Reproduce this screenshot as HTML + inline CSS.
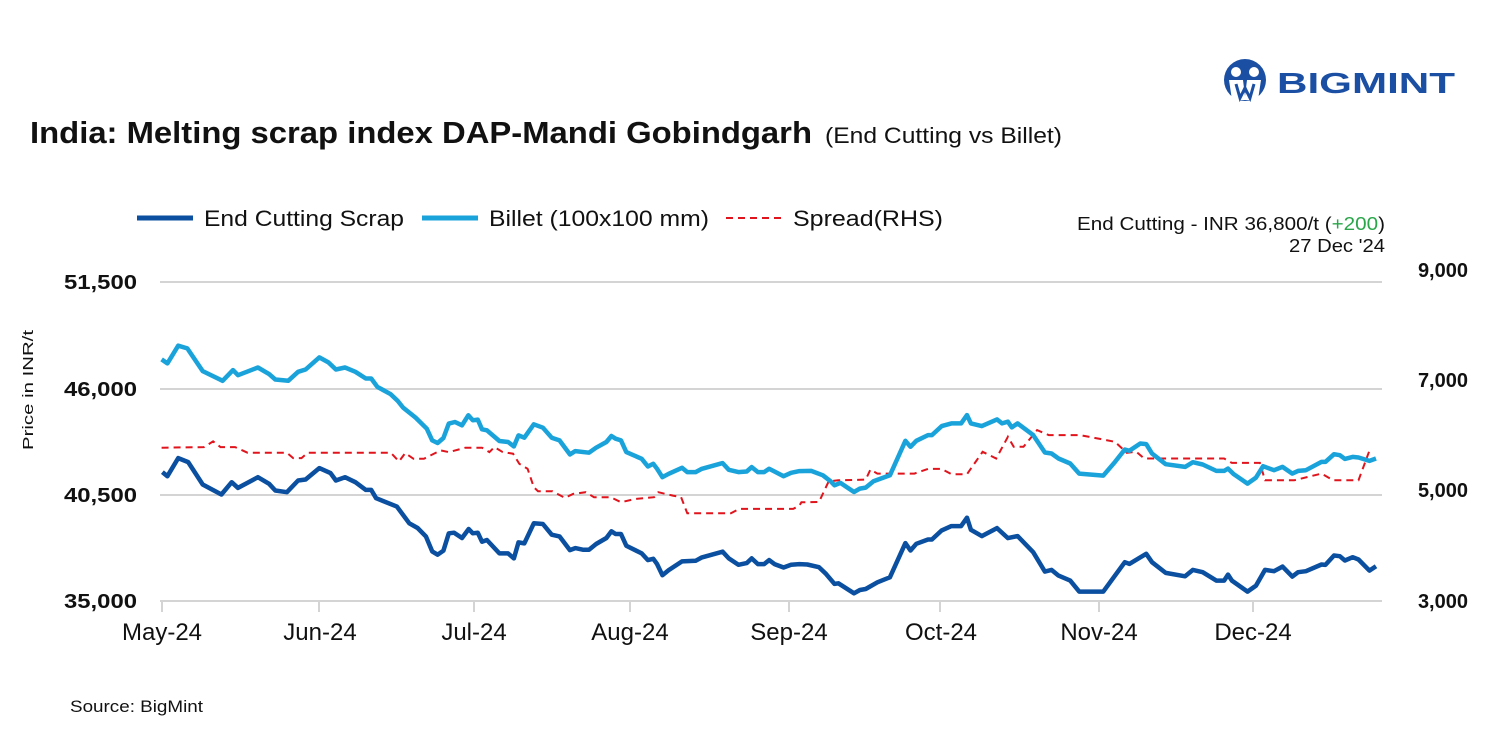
<!DOCTYPE html>
<html><head><meta charset="utf-8"><style>
body{margin:0;background:#fff;}
svg{display:block;font-family:"Liberation Sans",Arial,sans-serif;}
</style></head><body>
<svg id="s" width="1502" height="750" viewBox="0 0 1502 750" xmlns="http://www.w3.org/2000/svg">
<rect width="1502" height="750" fill="#fff"/>
<!-- logo -->
<circle cx="1245" cy="80" r="21" fill="#1b4fa3"/>
<circle cx="1236" cy="72" r="5" fill="#fff"/>
<circle cx="1254" cy="72" r="5" fill="#fff"/>
<path d="M1229 80 L1243 80 L1245 96 L1247 80 L1261 80 L1258 100 L1232 100 Z" fill="#fff"/>
<path d="M1236 84 L1240 98 L1245 88 L1250 98 L1254 84" stroke="#1b4fa3" stroke-width="3" fill="none"/>
<text x="1277" y="93" font-size="29" font-weight="bold" fill="#1b4fa3" textLength="178" lengthAdjust="spacingAndGlyphs">BIGMINT</text>
<!-- title -->
<text x="30" y="143" font-size="31" font-weight="bold" fill="#111" textLength="782" lengthAdjust="spacingAndGlyphs">India: Melting scrap index DAP-Mandi Gobindgarh</text>
<text x="825" y="143" font-size="22" fill="#111" textLength="237" lengthAdjust="spacingAndGlyphs">(End Cutting vs Billet)</text>
<!-- legend -->
<line x1="137" y1="218" x2="193" y2="218" stroke="#0a4fa0" stroke-width="5"/>
<text x="204" y="226" font-size="22" fill="#111" textLength="200" lengthAdjust="spacingAndGlyphs">End Cutting Scrap</text>
<line x1="422" y1="218" x2="478" y2="218" stroke="#1aa3db" stroke-width="5"/>
<text x="489" y="226" font-size="22" fill="#111" textLength="220" lengthAdjust="spacingAndGlyphs">Billet (100x100 mm)</text>
<line x1="726" y1="218" x2="782" y2="218" stroke="#e0141c" stroke-width="2" stroke-dasharray="7,5"/>
<text x="793" y="226" font-size="22" fill="#111" textLength="150" lengthAdjust="spacingAndGlyphs">Spread(RHS)</text>
<text x="1077" y="230" font-size="18" fill="#111" textLength="308" lengthAdjust="spacingAndGlyphs">End Cutting - INR 36,800/t (<tspan fill="#2aa64a">+200</tspan>)</text>
<text x="1289" y="252" font-size="18" fill="#111" textLength="96" lengthAdjust="spacingAndGlyphs">27 Dec '24</text>
<!-- grid -->
<g stroke="#d4d4d4" stroke-width="2">
<line x1="160" y1="282" x2="1382" y2="282"/>
<line x1="160" y1="389" x2="1382" y2="389"/>
<line x1="160" y1="495" x2="1382" y2="495"/>
<line x1="160" y1="601" x2="1382" y2="601"/>
<line x1="162" y1="601" x2="162" y2="612"/><line x1="319" y1="601" x2="319" y2="612"/>
<line x1="474" y1="601" x2="474" y2="612"/><line x1="630" y1="601" x2="630" y2="612"/>
<line x1="789" y1="601" x2="789" y2="612"/><line x1="940" y1="601" x2="940" y2="612"/>
<line x1="1099" y1="601" x2="1099" y2="612"/><line x1="1253" y1="601" x2="1253" y2="612"/>
</g>
<g font-size="20" font-weight="bold" fill="#111">
<text x="64" y="289" textLength="73" lengthAdjust="spacingAndGlyphs">51,500</text>
<text x="64" y="396" textLength="73" lengthAdjust="spacingAndGlyphs">46,000</text>
<text x="64" y="502" textLength="73" lengthAdjust="spacingAndGlyphs">40,500</text>
<text x="64" y="608" textLength="73" lengthAdjust="spacingAndGlyphs">35,000</text>
</g>
<g font-size="20" font-weight="bold" fill="#111" text-anchor="end">
<text x="1468" y="277">9,000</text><text x="1468" y="387">7,000</text>
<text x="1468" y="497">5,000</text><text x="1468" y="608">3,000</text>
</g>
<g font-size="24" fill="#111" text-anchor="middle">
<text x="162" y="640">May-24</text><text x="320" y="640">Jun-24</text><text x="474" y="640">Jul-24</text>
<text x="630" y="640">Aug-24</text><text x="789" y="640">Sep-24</text><text x="941" y="640">Oct-24</text>
<text x="1099" y="640">Nov-24</text><text x="1253" y="640">Dec-24</text>
</g>
<text transform="translate(33,450) rotate(-90)" font-size="15" fill="#111" textLength="120" lengthAdjust="spacingAndGlyphs">Price in INR/t</text>
<text x="70" y="712" font-size="17" fill="#111" textLength="133" lengthAdjust="spacingAndGlyphs">Source: BigMint</text>
<polyline id="sp" fill="none" stroke="#e0141c" stroke-width="2" stroke-dasharray="7,5"/>
<polyline id="bl" fill="none" stroke="#1aa3db" stroke-width="4.5" stroke-linejoin="round"/>
<polyline id="ec" fill="none" stroke="#0a4fa0" stroke-width="4.5" stroke-linejoin="round"/>
</svg>
<script>
function conv(a,b){var o=[];for(var i=0;i<a.length;i+=2)o.push((150+a[i]/2.41).toFixed(1)+","+(330+a[i+1]/2.99).toFixed(1));
for(var i=0;i<b.length;i+=2){var x=780+b[i]/2.567;if(x<=800)continue;o.push(x.toFixed(1)+","+(400+b[i+1]/2.99).toFixed(1));}return o.join(" ");}
var ec1=[30,425,42,437,68,383,92,395,127,462,172,492,197,455,212,472,260,440,287,460,302,480,330,485,357,450,375,447,408,413,435,428,448,450,470,440,495,455,520,478,533,478,545,503,595,528,625,578,645,592,665,617,680,662,693,672,707,660,720,608,733,606,752,622,768,595,778,608,790,606,800,633,812,628,842,668,863,668,877,683,888,635,902,638,925,578,947,580,968,612,987,617,1012,658,1025,652,1043,657,1058,657,1075,640,1100,622,1112,602,1122,610,1135,610,1148,645,1185,668,1200,688,1213,684,1222,700,1235,733,1250,718,1282,692,1315,690,1330,680,1380,663,1395,683,1418,702,1438,697,1450,683,1465,700,1480,700,1492,688,1505,700,1527,710,1545,702,1565,700];
var ec2=[0,500,30,488,70,492,100,500,118,520,140,550,150,548,190,578,205,568,220,565,250,545,282,530,322,428,335,450,350,430,380,417,390,417,415,390,440,377,465,377,480,352,490,388,518,407,557,383,585,413,610,407,650,455,680,513,697,508,715,525,745,540,768,573,830,573,860,525,885,485,897,490,940,460,955,485,990,517,1040,527,1060,508,1085,515,1120,540,1140,540,1150,522,1160,540,1200,573,1222,555,1245,508,1268,512,1290,498,1315,528,1330,515,1350,512,1390,492,1400,493,1422,465,1437,467,1450,480,1470,470,1485,477,1513,510,1530,497];
var bl1=[28,88,42,100,68,47,90,55,127,123,175,152,200,120,212,135,260,112,287,132,302,148,333,152,357,125,375,118,408,82,430,97,448,118,470,112,495,125,520,145,533,145,548,170,580,192,597,212,610,232,640,262,667,295,680,330,693,338,707,323,720,280,735,275,752,285,767,255,778,270,790,268,800,297,812,300,842,332,863,335,877,348,888,315,902,322,925,282,947,292,968,322,987,330,1012,372,1025,362,1058,367,1075,352,1100,335,1112,317,1122,325,1135,330,1148,365,1185,385,1200,408,1213,400,1222,415,1235,440,1250,430,1282,412,1295,425,1315,425,1330,415,1380,398,1395,418,1418,425,1438,423,1450,410,1465,425,1480,425,1492,415,1505,423,1527,437,1545,427,1565,422];
var bl2=[0,222,30,215,50,210,80,212,110,225,130,243,140,255,155,248,190,275,205,265,220,262,240,243,282,225,322,122,335,140,350,122,380,105,390,105,415,78,440,70,465,70,480,45,490,70,518,78,557,58,570,70,585,65,595,82,610,70,650,105,680,157,697,160,715,175,745,190,768,220,830,226,860,185,885,148,897,152,925,130,940,132,955,160,990,192,1040,200,1060,186,1085,193,1120,212,1140,212,1150,205,1165,222,1200,250,1222,232,1240,198,1268,210,1290,200,1315,220,1330,212,1350,210,1390,185,1400,185,1422,162,1437,165,1450,176,1470,170,1485,172,1513,182,1530,175];
var sp1=[28,352,130,350,152,333,170,350,205,350,235,367,330,367,345,383,365,383,380,367,580,367,600,393,615,368,635,385,660,385,700,360,720,365,760,352,800,352,818,365,830,350,850,365,875,370,890,400,910,415,925,470,935,482,970,482,1000,502,1020,490,1050,485,1070,500,1110,500,1135,515,1170,505,1215,500,1225,485,1260,495,1280,500,1295,548,1400,548,1420,535,1550,535,1565,525];
var sp2=[0,325,35,323,55,306,100,305,125,243,150,240,220,238,232,208,250,220,345,220,380,206,415,206,440,222,480,222,520,155,555,175,585,110,600,140,625,140,660,90,690,105,770,105,860,125,890,158,915,155,935,175,1140,175,1160,188,1232,188,1245,240,1320,240,1390,220,1420,240,1485,240,1512,155];
document.getElementById("ec").setAttribute("points",conv(ec1,ec2));
document.getElementById("bl").setAttribute("points",conv(bl1,bl2));
document.getElementById("sp").setAttribute("points",conv(sp1,sp2));
</script>
</body></html>
